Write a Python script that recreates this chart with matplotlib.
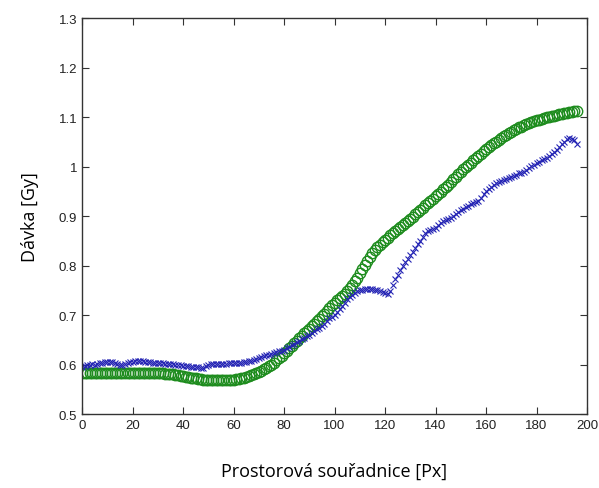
import numpy as np
import matplotlib
matplotlib.use("Agg")
import matplotlib.pyplot as plt

# x positions (pixel index along the profile)
x_px = list(range(197))

# measured dose profile (green circles)
green_dose = [
    0.584, 0.584, 0.583, 0.584, 0.584, 0.583, 0.584, 0.584, 0.584, 0.583,
    0.583, 0.584, 0.583, 0.583, 0.583, 0.584, 0.583, 0.583, 0.583, 0.583,
    0.583, 0.583, 0.583, 0.583, 0.583, 0.583, 0.583, 0.583, 0.583, 0.583,
    0.583, 0.583, 0.583, 0.582, 0.582, 0.582, 0.581, 0.580, 0.579, 0.578,
    0.577, 0.576, 0.575, 0.574, 0.573, 0.573, 0.572, 0.571, 0.570, 0.569,
    0.568, 0.568, 0.568, 0.568, 0.568, 0.568, 0.568, 0.568, 0.569, 0.569,
    0.570, 0.571, 0.572, 0.573, 0.574, 0.576, 0.577, 0.579, 0.581, 0.583,
    0.585, 0.588, 0.591, 0.594, 0.597, 0.600, 0.604, 0.609, 0.614, 0.618,
    0.623, 0.628, 0.633, 0.638, 0.643, 0.648, 0.653, 0.658, 0.663, 0.668,
    0.673, 0.678, 0.683, 0.688, 0.693, 0.698, 0.703, 0.708, 0.714, 0.720,
    0.725, 0.730, 0.734, 0.739, 0.743, 0.748, 0.754, 0.761, 0.768, 0.776,
    0.785, 0.793, 0.801, 0.809, 0.817, 0.825, 0.831, 0.837, 0.842, 0.847,
    0.852, 0.856, 0.861, 0.865, 0.870, 0.874, 0.878, 0.882, 0.887, 0.891,
    0.895, 0.899, 0.904, 0.908, 0.913, 0.917, 0.922, 0.926, 0.931, 0.935,
    0.940, 0.945, 0.949, 0.954, 0.958, 0.963, 0.968, 0.974, 0.979, 0.985,
    0.990, 0.995, 0.999, 1.004, 1.008, 1.013, 1.017, 1.022, 1.026, 1.031,
    1.035, 1.039, 1.043, 1.047, 1.050, 1.054, 1.057, 1.061, 1.064, 1.067,
    1.070, 1.073, 1.076, 1.079, 1.081, 1.084, 1.086, 1.088, 1.090, 1.092,
    1.094, 1.095, 1.097, 1.098, 1.100, 1.101, 1.102, 1.103, 1.105, 1.106,
    1.107, 1.108, 1.109, 1.110, 1.111, 1.112, 1.113,
]

# second dose profile (blue crosses)
blue_dose = [
    0.595, 0.598, 0.600, 0.599, 0.601, 0.600, 0.601, 0.603, 0.604, 0.605,
    0.606, 0.606, 0.605, 0.603, 0.601, 0.600, 0.599, 0.601, 0.603, 0.605,
    0.606, 0.607, 0.608, 0.608, 0.607, 0.606, 0.606, 0.605, 0.604, 0.604,
    0.603, 0.604, 0.603, 0.602, 0.602, 0.601, 0.601, 0.600, 0.599, 0.599,
    0.598, 0.598, 0.597, 0.596, 0.596, 0.595, 0.595, 0.594, 0.594, 0.597,
    0.600, 0.601, 0.601, 0.602, 0.602, 0.601, 0.601, 0.602, 0.603, 0.604,
    0.603, 0.603, 0.604, 0.604, 0.605, 0.606, 0.607, 0.608, 0.609, 0.611,
    0.613, 0.615, 0.618, 0.619, 0.620, 0.621, 0.623, 0.625, 0.627, 0.628,
    0.630, 0.633, 0.636, 0.639, 0.642, 0.645, 0.648, 0.651, 0.654, 0.657,
    0.660, 0.663, 0.667, 0.671, 0.675, 0.678, 0.683, 0.688, 0.694, 0.697,
    0.700, 0.706, 0.712, 0.718, 0.725, 0.732, 0.737, 0.741, 0.745, 0.748,
    0.750, 0.751, 0.752, 0.752, 0.752, 0.752, 0.751, 0.750, 0.749, 0.747,
    0.745, 0.743, 0.748, 0.760, 0.772, 0.782, 0.791, 0.800, 0.807, 0.814,
    0.821, 0.827, 0.835, 0.843, 0.850, 0.858, 0.865, 0.869, 0.872, 0.874,
    0.877, 0.882, 0.887, 0.890, 0.893, 0.895, 0.897, 0.900, 0.904, 0.908,
    0.912, 0.915, 0.918, 0.921, 0.924, 0.926, 0.928, 0.930, 0.936, 0.944,
    0.951, 0.955, 0.959, 0.963, 0.966, 0.968, 0.970, 0.972, 0.974, 0.976,
    0.978, 0.981, 0.984, 0.987, 0.988, 0.990, 0.993, 0.997, 1.001, 1.004,
    1.008, 1.010, 1.013, 1.015, 1.018, 1.021, 1.025, 1.029, 1.034, 1.040,
    1.045, 1.050, 1.056, 1.057, 1.056, 1.054, 1.045,
]

x_ticks = [0, 20, 40, 60, 80, 100, 120, 140, 160, 180, 200]
y_ticks = [0.5, 0.6, 0.7, 0.8, 0.9, 1.0, 1.1, 1.2, 1.3]
y_tick_labels = ["0.5", "0.6", "0.7", "0.8", "0.9", "1", "1.1", "1.2", "1.3"]


def main():
    fig = plt.figure(figsize=(5.99, 4.89), dpi=100)
    ax = fig.add_axes([0.137, 0.151, 0.843, 0.810])

    ax.plot(x_px, green_dose, linestyle="none", marker="o", markersize=7.5,
            markerfacecolor="none", markeredgecolor="#1e8c1e", markeredgewidth=1.0)
    ax.plot(x_px, blue_dose, linestyle="none", marker="x", markersize=5,
            color="#2424b4", markeredgewidth=0.8)

    ax.set_xlim(0, 200)
    ax.set_ylim(0.5, 1.3)
    ax.set_xticks(x_ticks)
    ax.set_yticks(y_ticks)
    ax.set_yticklabels(y_tick_labels)

    ax.tick_params(direction="in", top=True, right=True, length=5, width=0.8,
                   colors="#333333", labelsize=9.5, labelcolor="#222222")
    for lab in ax.get_xticklabels() + ax.get_yticklabels():
        lab.set_family("Liberation Sans")
    for sp in ax.spines.values():
        sp.set_color("#333333")
        sp.set_linewidth(1.0)

    ax.set_xlabel("Prostorová souřadnice [Px]", family="Open Sans",
                  fontsize=13, labelpad=22)
    ax.set_ylabel("Dávka [Gy]", family="Open Sans", fontsize=13, labelpad=14)

    fig.savefig("out.png", dpi=100)


if __name__ == "__main__":
    main()
